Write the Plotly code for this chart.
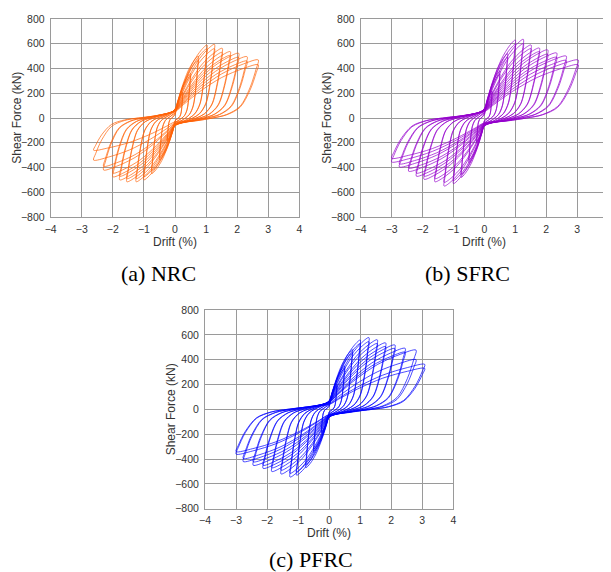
import plotly.graph_objects as go

# ---- cycle peaks (drift %, shear force kN) ----
nrc_pos_drift = [0.25, 0.25, 0.5, 0.5, 0.75, 0.75, 1.03, 1.03, 1.27, 1.27, 1.52, 1.52,
                 1.78, 1.78, 2.05, 2.05, 2.32, 2.32, 2.68, 2.68]
nrc_pos_force = [210, 195, 360, 340, 500, 470, 590, 560, 595, 560, 563, 530,
                 536, 505, 523, 490, 495, 460, 469, 430]
nrc_neg_drift = [-0.25, -0.25, -0.5, -0.5, -0.75, -0.75, -1.0, -1.0, -1.25, -1.25, -1.55, -1.55,
                 -1.78, -1.78, -2.0, -2.0, -2.3, -2.3, -2.62, -2.62]
nrc_neg_force = [-190, -180, -340, -320, -450, -425, -500, -475, -515, -490, -515, -490,
                 -500, -470, -475, -445, -420, -390, -340, -260]

sfrc_pos_drift = [0.25, 0.25, 0.5, 0.5, 0.75, 0.75, 1.0, 1.0, 1.26, 1.26, 1.51, 1.51,
                  1.78, 1.78, 2.05, 2.05, 2.34, 2.34, 2.65, 2.65, 3.04, 3.04]
sfrc_pos_force = [220, 205, 380, 355, 520, 490, 630, 595, 636, 600, 590, 560,
                  565, 535, 550, 515, 525, 490, 500, 465, 468, 430]
sfrc_neg_drift = [-0.25, -0.25, -0.5, -0.5, -0.75, -0.75, -1.0, -1.0, -1.3, -1.3, -1.6, -1.6,
                  -1.95, -1.95, -2.2, -2.2, -2.45, -2.45, -2.75, -2.75, -3.0, -3.0]
sfrc_neg_force = [-200, -190, -360, -340, -480, -455, -530, -505, -550, -520, -515, -490,
                  -495, -470, -470, -445, -430, -405, -395, -370, -355, -325]

pfrc_pos_drift = [0.25, 0.25, 0.5, 0.5, 0.75, 0.75, 1.0, 1.0, 1.28, 1.28, 1.55, 1.55,
                  1.82, 1.82, 2.12, 2.12, 2.45, 2.45, 2.8, 2.8, 3.08, 3.08]
pfrc_pos_force = [200, 185, 350, 330, 480, 455, 558, 530, 578, 545, 560, 530,
                  535, 505, 518, 490, 491, 460, 477, 400, 362, 330]
pfrc_neg_drift = [-0.25, -0.25, -0.5, -0.5, -0.75, -0.75, -1.05, -1.05, -1.26, -1.26, -1.55, -1.55,
                  -1.85, -1.85, -2.13, -2.13, -2.45, -2.45, -2.77, -2.77, -3.0, -3.0]
pfrc_neg_force = [-190, -180, -340, -320, -470, -445, -530, -505, -545, -515, -520, -490,
                  -500, -470, -475, -450, -450, -422, -420, -395, -360, -340]

# loop outline (fractions of the half-cycle peak), read from the loop shapes
half_loop_u = [0.0, 0.1, 0.3, 0.56, 0.82, 1.0, 0.975, 0.9, 0.78, 0.62, 0.45, 0.25]
half_loop_v = [0.12, 0.25, 0.5, 0.76, 0.93, 1.0, 0.85, 0.52, 0.2, 0.06, 0.0, -0.05]

x_ticks = [-4, -3, -2, -1, 0, 1, 2, 3, 4]
y_ticks = [-800, -600, -400, -200, 0, 200, 400, 600, 800]
captions = ["(a) NRC", "(b) SFRC", "(c) PFRC"]

OFF = 8                      # page offset of the figure inside the window
W, H = 611 - OFF, 572 - OFF


def loop_path(pd, pf, nd, nf):
    xs, ys = [], []
    for k in range(len(pd)):
        for u, v in zip(half_loop_u, half_loop_v):
            xs.append(u * pd[k]); ys.append(v * pf[k])
        for u, v in zip(half_loop_u, half_loop_v):
            xs.append(u * nd[k]); ys.append(v * nf[k])
    return xs, ys


def fx(px):
    return (px - OFF) / W


def fy(py):
    return 1 - (py - OFF) / H


panels = [
    dict(data=(nrc_pos_drift, nrc_pos_force, nrc_neg_drift, nrc_neg_force),
         color="rgba(255,100,10,0.7)", px=(50.7, 299.3), py=(19, 217)),
    dict(data=(sfrc_pos_drift, sfrc_pos_force, sfrc_neg_drift, sfrc_neg_force),
         color="rgba(150,0,205,0.7)", px=(360.7, 608.0), py=(19, 217)),
    dict(data=(pfrc_pos_drift, pfrc_pos_force, pfrc_neg_drift, pfrc_neg_force),
         color="rgba(0,0,255,0.7)", px=(205.0, 453.3), py=(310, 508.7)),
]

fig = go.Figure()
layout = dict(width=W, height=H, margin=dict(l=0, r=0, t=0, b=0, pad=0, autoexpand=False),
              paper_bgcolor="white", plot_bgcolor="white", showlegend=False,
              font=dict(family="Liberation Sans, Arial", size=10.5, color="#333"))
annotations = []
axis_common = dict(showgrid=True, gridcolor="#9a9a9a", gridwidth=1, zeroline=False,
                   showline=True, linecolor="#9a9a9a", linewidth=1, mirror=True,
                   automargin=False, ticks="", tickfont=dict(size=10.5, color="#333"))

for i, p in enumerate(panels):
    xs, ys = loop_path(*p["data"])
    sfx = "" if i == 0 else str(i + 1)
    fig.add_trace(go.Scatter(x=xs, y=ys, mode="lines",
                             line=dict(color=p["color"], width=1, shape="spline", smoothing=0.9),
                             xaxis="x" + sfx, yaxis="y" + sfx, hoverinfo="skip"))
    x0, x1 = p["px"]
    y0, y1 = p["py"]
    layout["xaxis" + sfx] = dict(axis_common, domain=[fx(x0), min(fx(x1), 1.0)], range=[-4, 4],
                                 tickvals=x_ticks, anchor="y" + sfx, ticklabelstandoff=2)
    layout["yaxis" + sfx] = dict(axis_common, domain=[fy(y1), fy(y0)], range=[-800, 800],
                                 tickvals=y_ticks, anchor="x" + sfx, ticklabelstandoff=3)
    xc = (x0 + x1) / 2
    yc = (y0 + y1) / 2
    annotations.append(dict(text="Drift (%)", x=fx(xc), y=fy(y1 + 24.7),
                            xref="paper", yref="paper", showarrow=False,
                            xanchor="center", yanchor="middle",
                            font=dict(size=12, color="#333")))
    annotations.append(dict(text="Shear Force (kN)", x=fx(x0 - 34), y=fy(yc),
                            xref="paper", yref="paper", showarrow=False, textangle=-90,
                            xanchor="center", yanchor="middle",
                            font=dict(size=12, color="#333")))

cap_pos = [(158, 273), (467, 273), (311, 559)]
for text, (cx, cy) in zip(captions, cap_pos):
    annotations.append(dict(text=text, x=fx(cx), y=fy(cy), xref="paper", yref="paper",
                            showarrow=False, xanchor="center", yanchor="middle",
                            font=dict(family="Liberation Serif, Times New Roman", size=22,
                                      color="black")))

layout["annotations"] = annotations
fig.update_layout(**layout)
fig.write_html("out.html")
